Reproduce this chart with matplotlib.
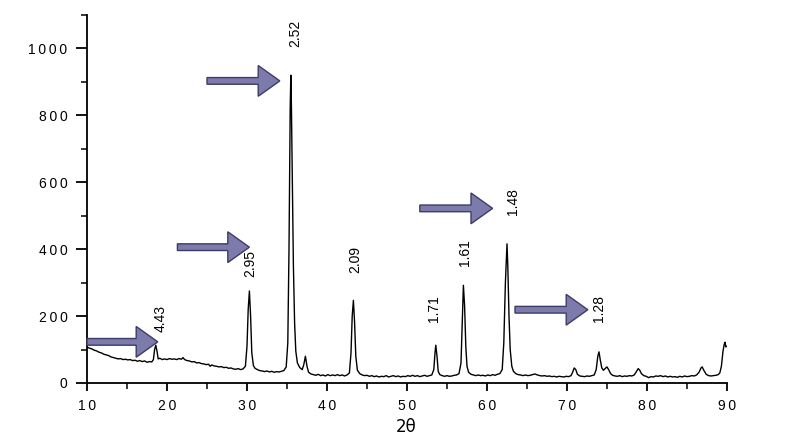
import matplotlib
matplotlib.use("Agg")
import matplotlib.pyplot as plt
from matplotlib.ticker import MultipleLocator, FuncFormatter

plt.rcParams['font.family'] = ['Liberation Sans', 'DejaVu Sans']

# XRD pattern: 2theta (deg) and intensity (counts)
two_theta = [
    10.0, 10.3, 10.6, 10.9, 11.2, 11.5, 11.8, 12.1, 12.4, 12.7, 13.0, 13.3, 13.6, 13.9, 14.2, 14.5,
    14.8, 15.1, 15.4, 15.7, 16.0, 16.3, 16.6, 16.9, 17.2, 17.5, 17.8, 18.1, 18.3, 18.45, 18.6, 18.75,
    18.9, 19.1, 19.4, 19.7, 20.0, 20.3, 20.6, 20.9, 21.2, 21.5, 21.8, 22.0, 22.2, 22.5, 22.8, 23.1,
    23.4, 23.7, 24.0, 24.3, 24.6, 24.9, 25.2, 25.4, 25.6, 25.9, 26.2, 26.5, 26.8, 27.1, 27.4, 27.7,
    28.0, 28.3, 28.6, 28.9, 29.2, 29.5, 29.8, 30.0, 30.15, 30.3, 30.45, 30.6, 30.8, 31.0, 31.3, 31.6,
    31.9, 32.2, 32.5, 32.8, 33.1, 33.4, 33.7, 34.0, 34.3, 34.6, 34.9, 35.1, 35.25, 35.4, 35.48, 35.55,
    35.65, 35.8, 35.95, 36.1, 36.3, 36.6, 36.9, 37.1, 37.3, 37.5, 37.7, 38.0, 38.3, 38.6, 38.9, 39.2,
    39.5, 39.8, 40.1, 40.4, 40.7, 41.0, 41.3, 41.6, 41.9, 42.2, 42.5, 42.8, 43.0, 43.15, 43.3, 43.45,
    43.6, 43.8, 44.1, 44.4, 44.7, 45.0, 45.3, 45.6, 45.9, 46.2, 46.5, 46.8, 47.1, 47.4, 47.7, 48.0,
    48.3, 48.6, 48.9, 49.2, 49.5, 49.8, 50.1, 50.4, 50.7, 51.0, 51.3, 51.6, 51.9, 52.2, 52.5, 52.8,
    53.1, 53.35, 53.5, 53.6, 53.75, 53.9, 54.1, 54.4, 54.7, 55.0, 55.3, 55.6, 55.9, 56.2, 56.5, 56.75,
    56.9, 57.05, 57.2, 57.35, 57.5, 57.7, 58.0, 58.3, 58.6, 58.9, 59.2, 59.5, 59.8, 60.1, 60.4, 60.7,
    61.0, 61.3, 61.6, 61.9, 62.1, 62.3, 62.5, 62.6, 62.75, 62.9, 63.1, 63.3, 63.6, 63.9, 64.2, 64.5,
    64.8, 65.1, 65.4, 65.7, 66.0, 66.3, 66.6, 66.9, 67.2, 67.5, 67.8, 68.1, 68.4, 68.7, 69.0, 69.3,
    69.6, 69.9, 70.2, 70.5, 70.7, 70.9, 71.1, 71.3, 71.6, 71.9, 72.2, 72.5, 72.8, 73.1, 73.4, 73.65,
    73.85, 74.0, 74.15, 74.35, 74.55, 74.8, 75.0, 75.2, 75.45, 75.7, 76.0, 76.3, 76.6, 76.9, 77.2, 77.5,
    77.8, 78.1, 78.4, 78.7, 78.9, 79.1, 79.3, 79.6, 79.9, 80.2, 80.5, 80.8, 81.1, 81.4, 81.7, 82.0,
    82.3, 82.6, 82.9, 83.2, 83.5, 83.8, 84.1, 84.4, 84.7, 85.0, 85.3, 85.6, 85.9, 86.2, 86.5, 86.75,
    86.9, 87.1, 87.4, 87.7, 88.0, 88.3, 88.6, 88.9, 89.1, 89.3, 89.5, 89.65, 89.75, 89.85, 90.0,
]
intensity = [
    108, 104, 102, 98, 96, 92, 90, 86, 84, 82, 78, 76, 74, 72, 73, 70,
    71, 69, 70, 67, 68, 65, 67, 64, 66, 62, 64, 63, 70, 100, 113, 95,
    72, 74, 70, 72, 70, 73, 71, 72, 70, 73, 71, 76, 70, 67, 66, 63,
    64, 60, 61, 58, 57, 55, 56, 50, 54, 51, 50, 48, 49, 46, 47, 44,
    45, 42, 41, 43, 40, 42, 50, 110, 220, 275, 200, 90, 52, 44, 40, 37,
    36, 34, 36, 33, 35, 32, 34, 33, 35, 37, 48, 120, 400, 820, 920, 830,
    640, 350, 180, 95, 60, 46, 40, 55, 80, 50, 32, 27, 25, 23, 26, 22,
    24, 21, 25, 22, 24, 22, 25, 22, 24, 21, 24, 30, 90, 200, 247, 180,
    80, 38, 28, 24, 22, 23, 20, 22, 19, 21, 18, 20, 19, 22, 18, 20,
    22, 19, 21, 18, 20, 19, 22, 20, 23, 20, 22, 19, 21, 23, 20, 22,
    24, 40, 90, 113, 80, 35, 25, 22, 20, 22, 20, 21, 23, 24, 28, 60,
    180, 292, 230, 110, 50, 32, 26, 24, 22, 24, 22, 23, 21, 24, 22, 25,
    23, 26, 28, 40, 120, 300, 416, 350, 200, 100, 50, 35, 28, 25, 24, 22,
    24, 22, 23, 25, 27, 24, 22, 21, 22, 20, 21, 19, 20, 18, 20, 19,
    18, 20, 19, 22, 32, 45, 40, 26, 21, 20, 19, 21, 20, 22, 24, 40,
    80, 93, 70, 45, 38, 44, 48, 40, 28, 23, 21, 20, 22, 19, 21, 20,
    22, 21, 24, 35, 43, 38, 28, 22, 20, 16, 19, 18, 21, 20, 22, 19,
    21, 18, 20, 18, 19, 17, 20, 18, 21, 19, 20, 22, 21, 24, 32, 45,
    48, 38, 26, 22, 21, 22, 23, 25, 30, 50, 95, 115, 122, 108, 110,
]

# d-spacing labels (Angstrom) and their anchor positions
d_labels = ["4.43", "2.95", "2.52", "2.09", "1.71", "1.61", "1.48", "1.28"]
d_label_x = [19.25, 30.4, 36.0, 43.5, 53.4, 57.25, 63.2, 74.0]
d_label_y = [194, 358, 1045, 370, 221, 391, 541, 223]

# arrows: tail x, tip x, y
arrow_tail_x = [10.0, 21.3, 25.0, 51.6, 63.5]
arrow_tip_x = [18.85, 30.3, 34.1, 60.7, 72.6]
arrow_y = [123, 406, 903, 522, 219]

fig = plt.figure(figsize=(8, 4.42), dpi=100)
ax = fig.add_axes([87 / 800, 1 - 383 / 442, 640 / 800, 368 / 442])

ax.plot(two_theta, intensity, color='black', lw=1.0)

ax.set_xlim(10, 90)
ax.set_ylim(0, 1100)

for sp in ['top', 'right']:
    ax.spines[sp].set_visible(False)
for sp in ['left', 'bottom']:
    ax.spines[sp].set_linewidth(1.3)

ax.xaxis.set_major_locator(MultipleLocator(10))
ax.xaxis.set_minor_locator(MultipleLocator(5))
ax.yaxis.set_major_locator(MultipleLocator(200))
ax.yaxis.set_minor_locator(MultipleLocator(100))

spaced = FuncFormatter(lambda v, p: "\u2009".join(str(int(round(v)))))
ax.xaxis.set_major_formatter(spaced)
ax.yaxis.set_major_formatter(spaced)

ax.tick_params(axis='y', which='major', length=8, width=1.3, pad=6, labelsize=10)
ax.tick_params(axis='y', which='minor', length=4.5, width=1.1)
ax.tick_params(axis='x', which='major', length=5.5, width=1.3, pad=6, labelsize=10)
ax.tick_params(axis='x', which='minor', length=4, width=1.1)

ax.set_xlabel("2θ", fontsize=12, family=['DejaVu Sans'])
ax.xaxis.set_label_coords((406 - 87) / 640, -0.095)

for t, x, y in zip(d_labels, d_label_x, d_label_y):
    ax.text(x, y, t, rotation=90, ha='center', va='center', fontsize=10, clip_on=False)

for x0, x1, y in zip(arrow_tail_x, arrow_tip_x, arrow_y):
    ax.arrow(x0, y, x1 - x0, 0, width=20, head_width=92, head_length=2.7,
             length_includes_head=True, fc='#7c7bab', ec='#3d3c66', lw=1.0,
             clip_on=False, zorder=3)

fig.savefig("out.png", dpi=100)
